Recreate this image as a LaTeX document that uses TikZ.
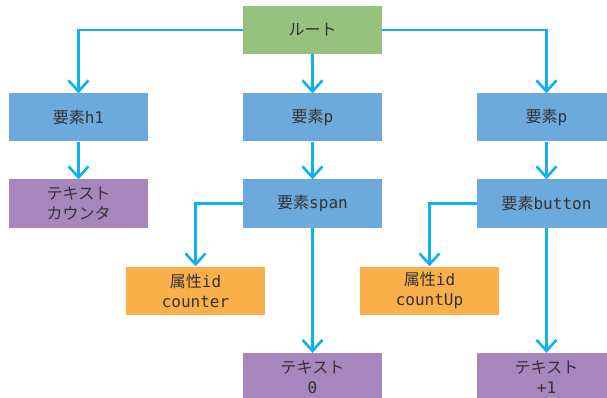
\documentclass[tikz,border=0pt]{standalone}
\usepackage{fontspec}
\setmainfont{DejaVu Sans Mono}
\newfontfamily\jp{Noto Sans CJK JP}
\usetikzlibrary{arrows.meta}
\definecolor{cgreen}{HTML}{95C37E}
\definecolor{cblue}{HTML}{6CAADB}
\definecolor{cpurple}{HTML}{A785BD}
\definecolor{corange}{HTML}{F9B04B}
\definecolor{cline}{HTML}{0EB1EE}
\definecolor{ctext}{HTML}{333333}
\begin{document}
\begin{tikzpicture}[x=1pt,y=-1pt,
  box/.style={minimum width=139pt,minimum height=48pt,inner sep=0pt,align=center,
    text=ctext,font=\fontsize{16}{20}\selectfont},
  gbox/.style={box,fill=cgreen},
  bbox/.style={box,fill=cblue},
  pbox/.style={box,fill=cpurple},
  obox/.style={box,fill=corange},
  arr/.style={draw=cline,line width=2.6pt,-{Straight Barb[length=11pt,width=20pt,line width=2.6pt]}}]
\useasboundingbox (0,0) rectangle (607,398);
\clip (0,0) rectangle (607,398);
\node[gbox] (root) at (312.5,30) {{\jp ルート}};
\node[bbox] (h1) at (78.5,117.5) {{\jp 要素}h1};
\node[bbox] (p1) at (312.5,117.5) {{\jp 要素}p};
\node[bbox] (p2) at (546.5,117.5) {{\jp 要素}p};
\node[pbox] (txt1) at (78.5,203.5) {{\jp テキスト}\\{\jp カウンタ}};
\node[bbox] (span) at (312.5,203.5) {{\jp 要素}span};
\node[bbox] (btn) at (546.5,203.5) {{\jp 要素}button};
\node[obox] (attr1) at (195.5,290.5) {{\jp 属性}id\\counter};
\node[obox] (attr2) at (429.5,290.5) {{\jp 属性}id\\countUp};
\node[pbox] (t0) at (312.5,377) {{\jp テキスト}\\0};
\node[pbox] (t1) at (546.5,377) {{\jp テキスト}\\+1};
\draw[arr] (root.west) -| (h1.north);
\draw[arr] (root.east) -| (p2.north);
\draw[arr] (root.south) -- (p1.north);
\draw[arr] (h1.south) -- (txt1.north);
\draw[arr] (p1.south) -- (span.north);
\draw[arr] (p2.south) -- (btn.north);
\draw[arr] (span.west) -| (attr1.north);
\draw[arr] (btn.west) -| (attr2.north);
\draw[arr] (span.south) -- (t0.north);
\draw[arr] (btn.south) -- (t1.north);
\end{tikzpicture}
\end{document}
